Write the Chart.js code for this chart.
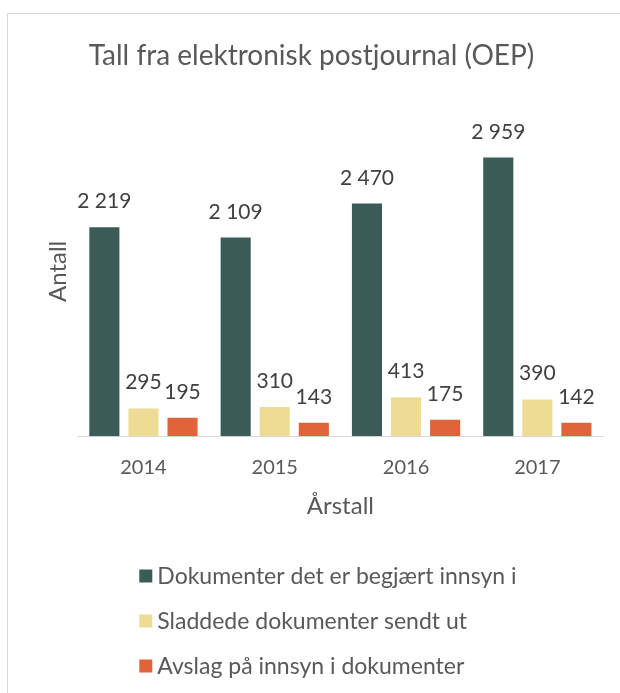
<!DOCTYPE html>
<html lang="no">
  <head>
    <meta charset="utf-8" />
    <title>Tall fra elektronisk postjournal (OEP)</title>
    <style>
      body { margin: 0; background: #fff; }
      #frame {
        position: absolute; left: 7px; top: 13px; width: 640px; height: 700px;
        border: 1px solid #d9d9d9;
      }
      #myChart { position: absolute; left: 0; top: 0; }
    </style>
  </head>
  <body>
    <div id="frame"></div>
    <canvas id="myChart" width="620" height="693"></canvas>
    <script src="https://cdn.jsdelivr.net/npm/chart.js@4.4.1/dist/chart.umd.min.js"></script>
    <script>
      var years = ["2014", "2015", "2016", "2017"];
      var begjart = [2219, 2109, 2470, 2959];
      var sladdede = [295, 310, 413, 390];
      var avslag = [195, 143, 175, 142];
      var seriesNames = [
        "Dokumenter det er begjært innsyn i",
        "Sladdede dokumenter sendt ut",
        "Avslag på innsyn i dokumenter"
      ];
      var colors = ["#3b5b57", "#eedc95", "#e0633a"];

      var FONT = "Lato, 'Open Sans', sans-serif";
      var TEXT = "#595959";

      function fmt(v) {
        return String(v).replace(/\B(?=(\d{3})+(?!\d))/g, " ");
      }

      // value labels above each bar
      var valueLabels = {
        id: "valueLabels",
        afterDatasetsDraw: function (chart) {
          var ctx = chart.ctx;
          ctx.save();
          ctx.font = "21px " + FONT;
          ctx.fillStyle = "#404040";
          ctx.textAlign = "center";
          ctx.textBaseline = "alphabetic";
          chart.data.datasets.forEach(function (ds, i) {
            chart.getDatasetMeta(i).data.forEach(function (bar, j) {
              ctx.fillText(fmt(ds.data[j]), bar.x, bar.y - 19);
            });
          });
          ctx.restore();
        }
      };

      // vertical legend under the chart
      var stackLegend = {
        id: "stackLegend",
        afterDraw: function (chart) {
          var ctx = chart.ctx;
          ctx.save();
          ctx.font = "23px " + FONT;
          ctx.textBaseline = "middle";
          var x0 = chart.chartArea.left + 61.5;
          var y0 = 576;
          chart.data.datasets.forEach(function (ds, i) {
            var y = y0 + i * 45;
            ctx.fillStyle = ds.backgroundColor;
            ctx.fillRect(x0, y - 6.5, 13, 13);
            ctx.fillStyle = TEXT;
            ctx.fillText(ds.label, x0 + 18, y + 1);
          });
          ctx.restore();
        }
      };

      var dataSource = {
        labels: years,
        datasets: [
          { label: seriesNames[0], data: begjart, backgroundColor: colors[0] },
          { label: seriesNames[1], data: sladdede, backgroundColor: colors[1] },
          { label: seriesNames[2], data: avslag, backgroundColor: colors[2] }
        ]
      };

      var ctx = document.getElementById("myChart").getContext("2d");
      var myBarChart = new Chart(ctx, {
        type: "bar",
        data: dataSource,
        plugins: [valueLabels, stackLegend],
        options: {
          responsive: false,
          animation: false,
          datasets: {
            bar: { barPercentage: 0.77, categoryPercentage: 0.893 }
          },
          layout: { padding: { left: 20, right: 17, top: 0, bottom: 172 } },
          plugins: {
            legend: { display: false },
            tooltip: { enabled: false },
            title: {
              display: true,
              text: "Tall fra elektronisk postjournal (OEP)",
              color: TEXT,
              font: { family: FONT, size: 28, weight: "normal" },
              padding: { top: 39, bottom: 34 }
            }
          },
          scales: {
            x: {
              grid: { display: false, drawTicks: false },
              border: { color: "#d9d9d9", width: 1 },
              ticks: { color: TEXT, font: { family: FONT, size: 20 }, padding: 19 },
              title: {
                display: true, text: "Årstall", color: TEXT,
                font: { family: FONT, size: 24 },
                padding: { top: -6, bottom: 0 }
              }
            },
            y: {
              min: 0, max: 3500,
              grid: { display: false, drawTicks: false },
              border: { display: false },
              ticks: { display: false },
              title: {
                display: true, text: "Antall", color: TEXT,
                font: { family: FONT, size: 24 },
                padding: { top: 24, bottom: 5 }
              }
            }
          }
        }
      });
    </script>
  </body>
</html>
